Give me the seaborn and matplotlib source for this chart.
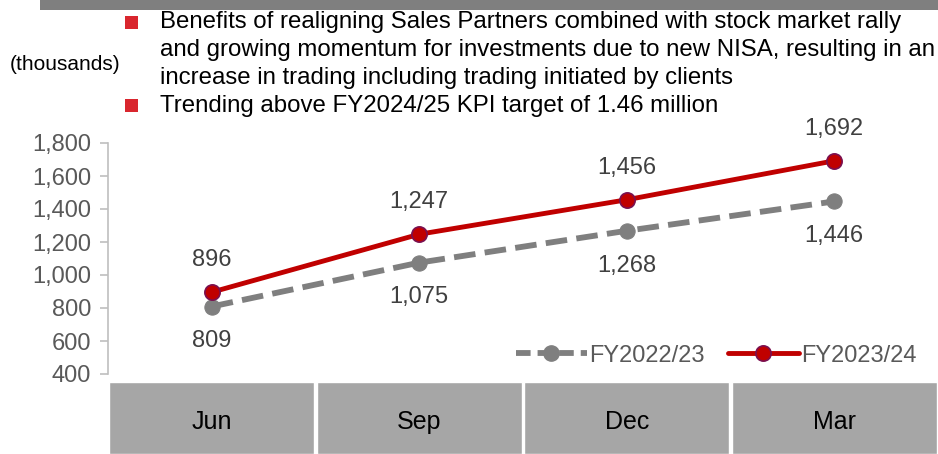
import pandas as pd
import seaborn as sns
import matplotlib.pyplot as plt
from matplotlib.patches import Rectangle
from matplotlib.lines import Line2D

# values
months = ['Jun', 'Sep', 'Dec', 'Mar']
fy2223 = [809, 1075, 1268, 1446]
fy2324 = [896, 1247, 1456, 1692]
yticks = [400, 600, 800, 1000, 1200, 1400, 1600, 1800]

bullet_lines = [
    "Benefits of realigning Sales Partners combined with stock market rally",
    "and growing momentum for investments due to new NISA, resulting in an",
    "increase in trading including trading initiated by clients",
    "Trending above FY2024/25 KPI target of 1.46 million",
]

sns.set_style('white')
plt.rcParams['font.family'] = ['Liberation Sans', 'DejaVu Sans']

RED = '#c00000'
GREY = '#7f7f7f'

fig = plt.figure(figsize=(9.38, 4.54), dpi=100)
ax = fig.add_axes([108 / 938, 1 - 374 / 454, 1 - 108 / 938, (374 - 143) / 454])

df = pd.DataFrame({'month': months, 'FY2022/23': fy2223, 'FY2023/24': fy2324})
x = list(range(len(months)))

sns.lineplot(x=x, y=df['FY2022/23'], ax=ax, color=GREY, lw=4.2,
             marker='o', markersize=11, markeredgecolor=GREY,
             dashes=(3.5, 2.2), linestyle='--', zorder=3)
sns.lineplot(x=x, y=df['FY2023/24'], ax=ax, color=RED, lw=3.5,
             marker='o', markersize=11, markeredgecolor='#7a1050',
             markeredgewidth=1.2, zorder=4)

for i in x:
    ax.annotate(f"{fy2324[i]:,}", (i, fy2324[i]), xytext=(0, 23),
                textcoords='offset points', ha='center', va='center',
                fontsize=17, color='#404040')
    ax.annotate(f"{fy2223[i]:,}", (i, fy2223[i]), xytext=(0, -25),
                textcoords='offset points', ha='center', va='center',
                fontsize=17, color='#404040')

ax.set_xlim(-0.5, len(months) - 0.5)
ax.set_ylim(400, 1800)
ax.set_yticks(yticks)
ax.set_yticklabels([f"{v:,}" for v in yticks], fontsize=17, color='#595959')
ax.set_xticks([])
ax.set_xlabel('')
ax.set_ylabel('')
ax.tick_params(axis='y', left=True, length=6, width=1.2, color='#bfbfbf', pad=6)
for s in ['top', 'right', 'bottom']:
    ax.spines[s].set_visible(False)
ax.spines['left'].set_color('#bfbfbf')
ax.spines['left'].set_linewidth(1.2)
ax.patch.set_alpha(0)

handles = [
    Line2D([], [], color=GREY, lw=4.2, linestyle=(0, (2.5, 1.2)), marker='o',
           markersize=11, markeredgecolor=GREY),
    Line2D([], [], color=RED, lw=3.5, marker='o', markersize=11,
           markeredgecolor='#7a1050', markeredgewidth=1.2),
]
ax.legend(handles, ['FY2022/23', 'FY2023/24'], loc='lower right',
          bbox_to_anchor=(1.0, -0.06), ncol=2, frameon=False, fontsize=17,
          labelcolor='#595959', handlelength=3.0, handletextpad=0.1,
          columnspacing=1.0)

# category strip under the plot
cax = fig.add_axes([108 / 938, 0, 1 - 108 / 938, 72 / 454])
sns.barplot(x=months, y=[1] * len(months), ax=cax, color='#a6a6a6',
            width=0.99, saturation=1)
cax.set_xlim(-0.5, len(months) - 0.5)
cax.set_ylim(0, 1)
cax.axis('off')
for i, m in enumerate(months):
    cax.text(i, 0.45, m, ha='center', va='center', fontsize=18, color='black')

# header decoration
fig.add_artist(Rectangle((40 / 938, 1 - 10 / 454), 1 - 40 / 938, 10 / 454,
                         transform=fig.transFigure, color='#7f7f7f', lw=0))
fig.text(10 / 938, 1 - 65 / 454, '(thousands)', fontsize=15, color='black',
         va='center', ha='left')
for yc in [22, 105]:
    fig.add_artist(Rectangle((125 / 938, 1 - (yc + 6.5) / 454), 13 / 938, 13 / 454,
                             transform=fig.transFigure, color='#d9262e', lw=0))
for k, line in enumerate(bullet_lines):
    fig.text(160 / 938, 1 - (22 + 28 * k) / 454, line, fontsize=17.3,
             color='black', va='center', ha='left')

fig.savefig('out.png', dpi=100)
